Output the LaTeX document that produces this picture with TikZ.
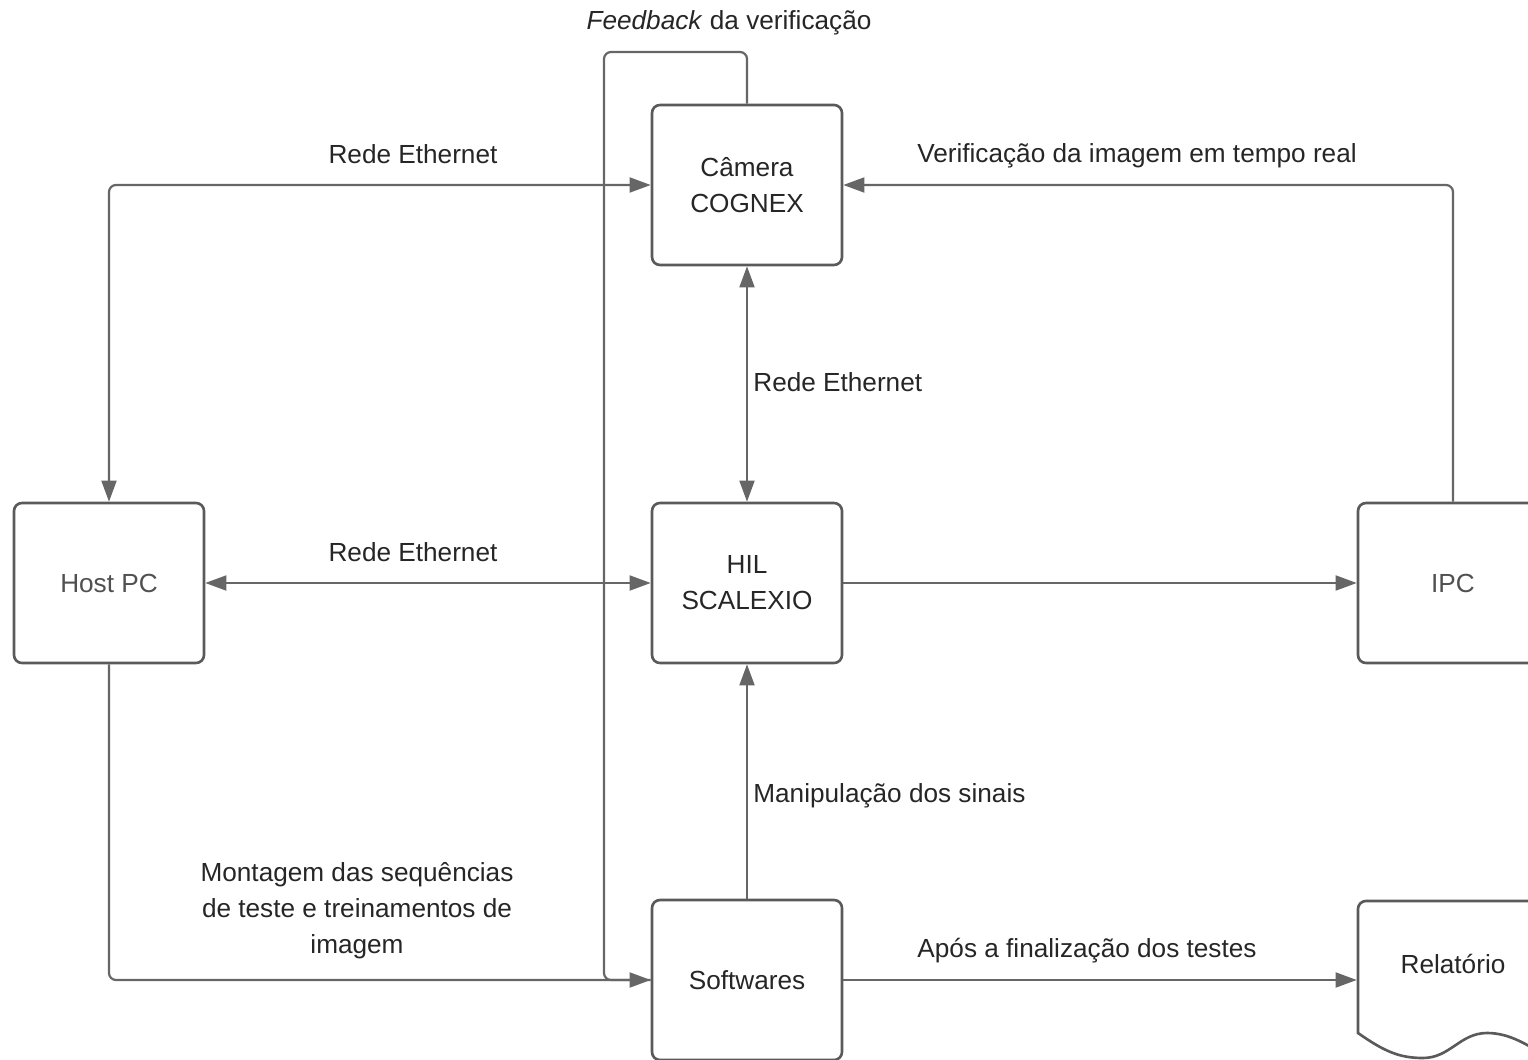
\documentclass[tikz,border=0pt]{standalone}
\usepackage{fontspec}
\setmainfont{Liberation Sans}
\usetikzlibrary{arrows.meta,calc}
\definecolor{wire}{HTML}{666666}
\definecolor{frame}{HTML}{5A5A5A}
\definecolor{ink}{HTML}{262626}
\definecolor{dimink}{HTML}{505050}
\tikzset{
    test diagram/.style = {x=0.02cm, y=-0.02cm,
                           >={Triangle[length=12pt,width=8.5pt]},
                           font=\fontsize{14.9}{20.5}\selectfont, text=ink},
    line/.style         = {draw=wire, line width=1.25pt, rounded corners=4pt},
    block/.style        = {draw=frame, line width=1.5pt, rounded corners=4.5pt,
                           fill=white, minimum width=3.8cm, minimum height=3.2cm,
                           align=center, inner sep=0pt},
    dim block/.style    = {block, text=dimink},
    sig/.style          = {align=center, inner sep=0pt}
}

\begin{document}
\begin{tikzpicture}[test diagram]
\useasboundingbox (0,0) rectangle (1528,1060);
\clip (0,0) rectangle (1528,1060);

% Blocks of the test bench.
\node[block] (cam) at (747,185) {Câmera\\COGNEX};
\node[block] (hil) at (747,583) {HIL\\SCALEXIO};
\node[block] (soft) at (747,980) {Softwares};
\node[dim block] (host) at (109,583) {Host PC};
\node[dim block] (ipc) at (1453,583) {IPC};
\node[block, draw=none, fill=none, minimum height=2.76cm] (rel) at (1453,964) {Relatório};
\draw[frame, line width=1.5pt, rounded corners=4.5pt] (1560,901) -- (1358,901)
    [sharp corners] -- (1358,1033)
    .. controls (1385,1052) and (1400,1058) .. (1423,1058)
    .. controls (1450,1058) and (1460,1033) .. (1487,1033)
    .. controls (1510,1033) and (1528,1045) .. (1552,1060);

% Feedback loop from the camera back to the software.
\coordinate (fbtop) at (604,52);
\draw[line] (cam.north) |- (fbtop) |- (soft.west);
\node[sig] (fblbl) at (729,23) {\textit{Feedback} da verificação};

% Network links.
\draw[<->,line] (cam.west) -| (host.north);
\node[sig] (ethtop) at (413,154) {Rede Ethernet};
\draw[<->,line] (host.east) -- (hil.west);
\node[sig] (ethmid) at (413,552) {Rede Ethernet};
\draw[<->,line] (cam.south) -- (hil.north);
\node[sig, anchor=west] (ethvert) at (753,382) {Rede Ethernet};

% Image check and signals.
\draw[->,line] (ipc.north) |- (cam.east);
\node[sig] (verlbl) at (1137,156) {Verificação da imagem em tempo real};
\draw[->,line] (hil.east) -- (ipc.west);
\draw[->,line] (soft.north) -- (hil.south);
\node[sig, anchor=west] (maniplbl) at (753,796) {Manipulação dos sinais};
\draw[->,line] (host.south) |- (soft.west);
\node[sig] (montlbl) at (357,911) {Montagem das sequências\\de teste e treinamentos de\\imagem};
\draw[->,line] (soft.east) -- (soft.east -| rel.west);
\node[sig] (apolbl) at (1087,951) {Após a finalização dos testes};

\end{tikzpicture}
\end{document}
